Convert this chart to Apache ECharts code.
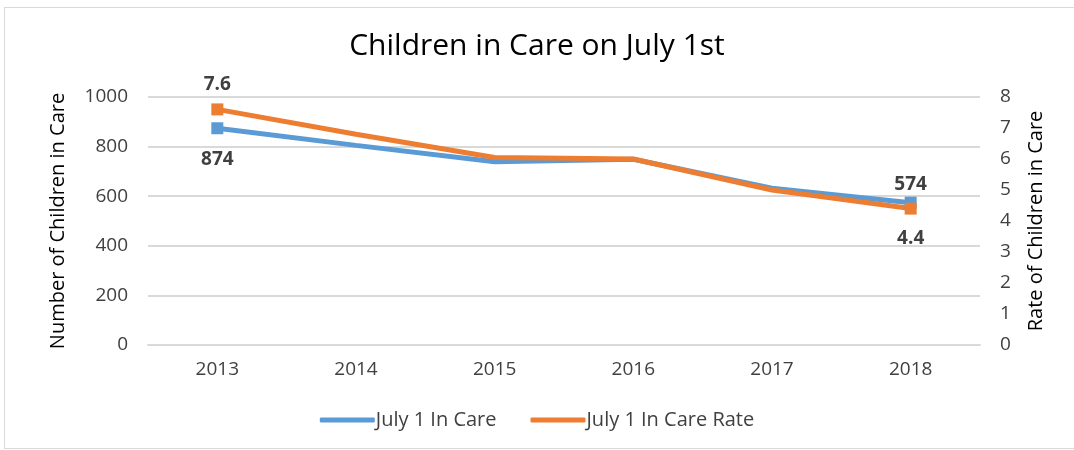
<!DOCTYPE html>
<html>
<head>
<meta charset="utf-8">
<script src="https://cdn.jsdelivr.net/npm/echarts@6/dist/echarts.min.js"></script>
<style>
  html, body { margin: 0; padding: 0; background: #fff; }
  #frame { position: absolute; left: 4px; top: 7px; width: 1080px; height: 440px; border: 1px solid #d9d9d9; }
  #chart { width: 1074px; height: 450px; }
</style>
</head>
<body>
<div id="frame"></div>
<div id="chart"></div>
<script>
// years on the x axis
const years = ['2013', '2014', '2015', '2016', '2017', '2018']
// number of children in care (left axis)
const inCare = [874, 805, 739, 749, 632, 574]
// rate of children in care (right axis)
const inCareRate = [7.6, 6.8, 6.05, 6.0, 5.0, 4.4]

const font = 'Open Sans'

// only first and last point get a marker and a label
function endPoints(values, first, last) {
  return values.map((v, i) => {
    const isEnd = i === 0 || i === values.length - 1
    const lab = i === 0 ? first : last
    return {
      value: v,
      symbol: isEnd ? 'rect' : 'none',
      label: {
        show: isEnd,
        position: lab[0],
        distance: lab[1]
      }
    }
  })
}

const chart = echarts.init(document.getElementById('chart'))

chart.setOption({
  animation: false,
  title: {
    text: 'Children in Care on July 1st',
    left: 'center',
    top: 26,
    textStyle: { fontFamily: font, fontSize: 30, fontWeight: 'normal', color: '#000' }
  },
  legend: {
    bottom: 15,
    left: 'center',
    itemWidth: 55,
    itemHeight: 5,
    itemGap: 34,
    icon: 'roundRect',
    textStyle: { fontFamily: font, fontSize: 20, color: '#404040', padding: [0, 0, 0, -4] },
    data: ['July 1 In Care', 'July 1 In Care Rate']
  },
  grid: { left: 148, right: 94, top: 97, bottom: 105 },
  xAxis: {
    type: 'category',
    data: years,
    axisLine: { lineStyle: { color: '#d9d9d9', width: 2 } },
    axisTick: { show: false },
    axisLabel: { fontFamily: font, fontSize: 19, color: '#404040', margin: 15 }
  },
  yAxis: [
    {
      type: 'value',
      min: 0, max: 1000, interval: 200,
      name: 'Number of Children in Care',
      nameLocation: 'middle',
      nameGap: 80,
      nameTextStyle: { fontFamily: font, fontSize: 20, color: '#000' },
      axisLabel: { fontFamily: font, fontSize: 19, color: '#404040', margin: 20, formatter: v => String(v) },
      splitLine: { lineStyle: { color: '#d9d9d9', width: 2 } }
    },
    {
      type: 'value',
      min: 0, max: 8, interval: 1,
      name: 'Rate of Children in Care',
      nameLocation: 'middle',
      nameGap: 46,
      nameTextStyle: { fontFamily: font, fontSize: 20, color: '#000' },
      axisLabel: { fontFamily: font, fontSize: 19, color: '#404040', margin: 20 },
      splitLine: { show: false }
    }
  ],
  series: [
    {
      name: 'July 1 In Care',
      type: 'line',
      yAxisIndex: 0,
      data: endPoints(inCare, ['bottom', 16], ['top', 3]),
      symbolSize: 12,
      lineStyle: { color: '#5b9bd5', width: 5 },
      itemStyle: { color: '#5b9bd5' },
      label: { fontFamily: font, fontSize: 19, fontWeight: 'bold', color: '#404040' }
    },
    {
      name: 'July 1 In Care Rate',
      type: 'line',
      yAxisIndex: 1,
      data: endPoints(inCareRate, ['top', 9], ['bottom', 14]),
      symbolSize: 12,
      lineStyle: { color: '#ed7d31', width: 5 },
      itemStyle: { color: '#ed7d31' },
      label: { fontFamily: font, fontSize: 19, fontWeight: 'bold', color: '#404040' }
    }
  ]
})
</script>
</body>
</html>
